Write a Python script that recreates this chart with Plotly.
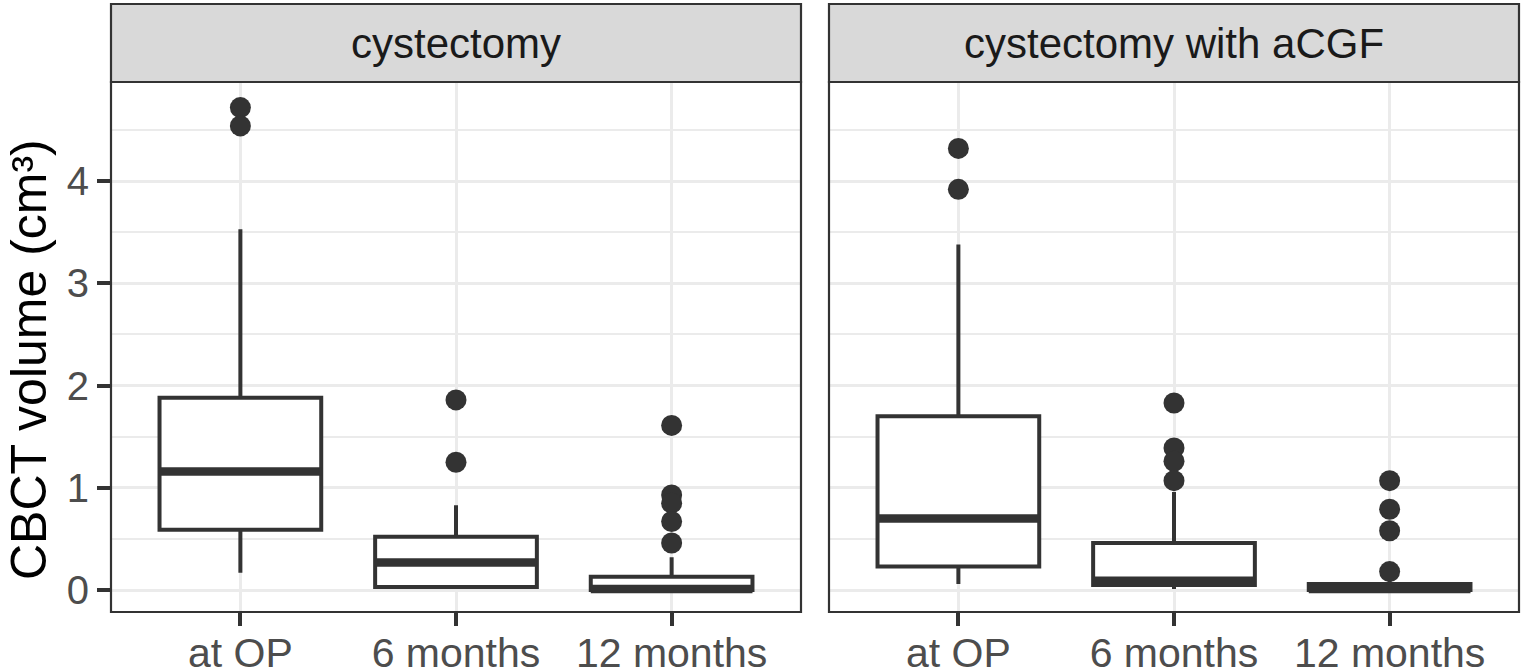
import plotly.graph_objects as go

# Box summary stats (CBCT volume, cm³)
categories = ["at OP", "6 months", "12 months"]
groups = ["cystectomy", "cystectomy with aCGF"]

cyst_q1 = [0.59, 0.03, 0.0]
cyst_median = [1.16, 0.27, 0.01]
cyst_q3 = [1.88, 0.52, 0.13]
cyst_lower = [0.17, 0.01, 0.0]
cyst_upper = [3.53, 0.83, 0.32]
cyst_outliers = [[4.72, 4.54], [1.86, 1.25], [1.61, 0.93, 0.85, 0.67, 0.46]]

acgf_q1 = [0.23, 0.05, 0.0]
acgf_median = [0.70, 0.09, 0.01]
acgf_q3 = [1.70, 0.46, 0.06]
acgf_lower = [0.06, 0.01, 0.0]
acgf_upper = [3.38, 0.96, 0.10]
acgf_outliers = [[4.32, 3.92], [1.83, 1.39, 1.26, 1.07], [1.07, 0.79, 0.58, 0.18]]

dark = "#333333"
grid = "#EBEBEB"
box_w = 0.75
font = "Liberation Sans, Arial, Helvetica, sans-serif"

W, H = 1524, 669
ml, mr, mt, mb = 111, 5, 4, 57
pw = W - ml - mr
ph = H - mt - mb
panel_w = 690
gap = 28
strip_h = 78
ytop = (ph - strip_h) / ph

panels = [
    (cyst_q1, cyst_median, cyst_q3, cyst_lower, cyst_upper, cyst_outliers),
    (acgf_q1, acgf_median, acgf_q3, acgf_lower, acgf_upper, acgf_outliers),
]
pos = list(range(1, len(categories) + 1))

fig = go.Figure()

for k, (q1, med, q3, lo, hi, outl) in enumerate(panels):
    xa = "x" if k == 0 else "x2"
    ya = "y" if k == 0 else "y2"
    fig.add_trace(go.Box(
        x=pos, q1=q1, median=med, q3=q3, lowerfence=lo, upperfence=hi,
        width=box_w, whiskerwidth=0, boxpoints=False,
        fillcolor="white", line=dict(color=dark, width=4),
        xaxis=xa, yaxis=ya, showlegend=False, hoverinfo="skip"
    ))
    # thicker median like ggplot
    for p, m in zip(pos, med):
        fig.add_trace(go.Scatter(
            x=[p - box_w / 2, p + box_w / 2], y=[m, m], mode="lines",
            line=dict(color=dark, width=8.5), xaxis=xa, yaxis=ya,
            showlegend=False, hoverinfo="skip"
        ))
    ox, oy = [], []
    for p, vals in zip(pos, outl):
        ox += [p] * len(vals)
        oy += vals
    fig.add_trace(go.Scatter(
        x=ox, y=oy, mode="markers",
        marker=dict(color=dark, size=21, line=dict(width=0)),
        xaxis=xa, yaxis=ya, showlegend=False, hoverinfo="skip", cliponaxis=False
    ))

axis_common = dict(
    range=[0.4, 3.6], tickvals=pos, ticktext=categories,
    showgrid=True, gridcolor=grid, gridwidth=3, zeroline=False,
    ticks="outside", ticklen=13, tickwidth=3.5, tickcolor=dark,
    tickfont=dict(size=41, color="#4D4D4D", family=font),
    ticklabelstandoff=-8,
    showline=False, automargin=False,
)
fig.update_layout(
    xaxis=dict(domain=[0, panel_w / pw], anchor="y", **axis_common),
    xaxis2=dict(domain=[(panel_w + gap) / pw, 1], anchor="y2", **axis_common),
    yaxis=dict(
        domain=[0, ytop], range=[-0.215, 4.97], tickvals=[0, 1, 2, 3, 4],
        showgrid=True, gridcolor=grid, gridwidth=3, zeroline=False,
        minor=dict(dtick=0.5, tick0=0.5, showgrid=True, gridcolor=grid, gridwidth=2),
        ticks="outside", ticklen=13, tickwidth=3.5, tickcolor=dark,
        tickfont=dict(size=40, color="#4D4D4D", family=font),
        automargin=False, anchor="x",
    ),
    yaxis2=dict(
        domain=[0, ytop], range=[-0.215, 4.97], tickvals=[0, 1, 2, 3, 4],
        showgrid=True, gridcolor=grid, gridwidth=3, zeroline=False,
        minor=dict(dtick=0.5, tick0=0.5, showgrid=True, gridcolor=grid, gridwidth=2),
        showticklabels=False, ticks="", automargin=False, anchor="x2",
    ),
    width=W, height=H,
    margin=dict(l=ml, r=mr, t=mt, b=mb),
    plot_bgcolor="white", paper_bgcolor="white",
    font=dict(family=font),
)

# panel borders and facet strips
for k, name in enumerate(groups):
    xd = "x domain" if k == 0 else "x2 domain"
    yd = "y domain" if k == 0 else "y2 domain"
    fig.add_shape(type="rect", xref=xd, yref=yd, x0=0, x1=1, y0=0, y1=1,
                  line=dict(color=dark, width=2.2), fillcolor="rgba(0,0,0,0)", layer="above")
    fig.add_shape(type="rect", xref=xd, yref="paper", x0=0, x1=1, y0=ytop, y1=1,
                  line=dict(color=dark, width=2.2), fillcolor="#D9D9D9", layer="above")
    fig.add_annotation(text=name, xref=xd, yref="paper", x=0.5, y=(ytop + 1) / 2,
                       showarrow=False, xanchor="center", yanchor="middle",
                       font=dict(size=42, color="#1A1A1A", family=font))

fig.add_annotation(text="CBCT volume (cm³)", xref="paper", yref="paper",
                   x=(29 - ml) / pw, y=(H - mb - 360) / ph, textangle=-90, showarrow=False,
                   xanchor="center", yanchor="middle",
                   font=dict(size=50, color="black", family=font))

fig.write_html("out.html", config={"displayModeBar": False},
               post_script="document.body.style.margin='0';")
